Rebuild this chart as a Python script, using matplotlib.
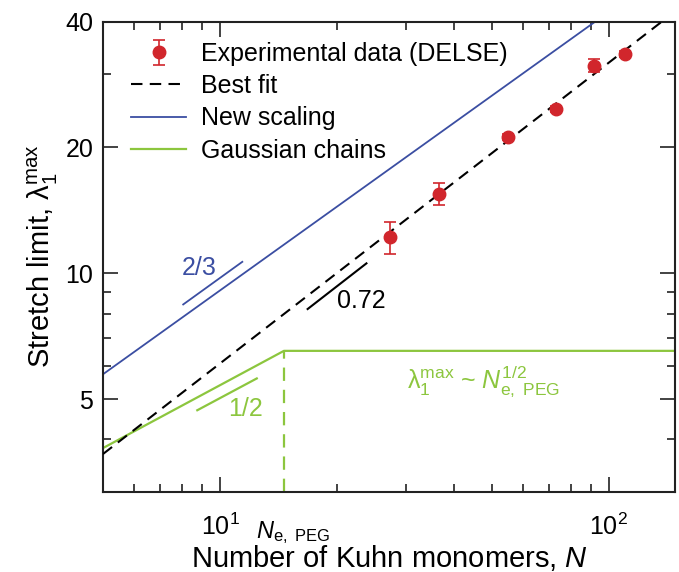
import numpy as np
import matplotlib
matplotlib.use('Agg')
import matplotlib.pyplot as plt
import matplotlib.transforms as mtransforms

plt.rcParams['font.family'] = ['Liberation Sans', 'DejaVu Sans']
plt.rcParams['mathtext.fontset'] = 'custom'
plt.rcParams['mathtext.rm'] = 'Liberation Sans'
plt.rcParams['mathtext.it'] = 'Liberation Sans:italic'
plt.rcParams['mathtext.bf'] = 'Liberation Sans:bold'

# experimental data (DELSE)
N_exp = [27.4, 36.5, 55.0, 73.3, 91.6, 110.0]
lam_exp = [12.2, 15.5, 21.2, 24.7, 31.4, 33.5]
lam_err = [1.1, 0.9, 0.4, 0.4, 1.1, 0.5]

# power laws
fit_pref, fit_exp = 1.159, 0.72
new_pref, new_exp = 1.96, 2 / 3
Ne_PEG = 14.6
lam_plateau = 6.52

# slope marks (N, lambda)
mark_23_N = [8.04, 11.41]
mark_23_lam = [8.42, 10.65]
mark_072_N = [16.8, 23.8]
mark_072_lam = [8.21, 10.56]
mark_12_N = [8.74, 12.43]
mark_12_lam = [4.70, 5.60]

red = '#d1262c'
blue = '#3b4ea2'
green = '#8cc63e'

fig = plt.figure(figsize=(6.79, 5.72), dpi=100)
ax = fig.add_axes([0.1517, 0.1404, 0.8424, 0.8216])
ax.set_xscale('log')
ax.set_yscale('log')
xmin, xmax = 5, 148
ax.set_xlim(xmin, xmax)
ax.set_ylim(3, 40)

N = np.geomspace(xmin, xmax, 200)
ax.plot(N, new_pref * N ** new_exp, color=blue, lw=1.3, label='New scaling')
ax.plot(N, fit_pref * N ** fit_exp, color='black', lw=1.5, dashes=(5.5, 3.5),
        label='Best fit', zorder=3)

Ng = np.array([xmin, Ne_PEG, xmax])
lam_g = np.array([lam_plateau * np.sqrt(xmin / Ne_PEG), lam_plateau, lam_plateau])
ax.plot(Ng, lam_g, color=green, lw=1.6, label='Gaussian chains')
ax.plot([Ne_PEG, Ne_PEG], [3, lam_plateau], color=green, lw=1.6, dashes=(6, 4))

ax.errorbar(N_exp, lam_exp, yerr=lam_err, fmt='o', color=red, ms=9,
            capsize=4.5, elinewidth=1.2, capthick=1.2, zorder=5,
            label='Experimental data (DELSE)')

# slope marks
ax.plot(mark_23_N, mark_23_lam, color=blue, lw=1.3)
ax.plot(mark_072_N, mark_072_lam, color='black', lw=1.5)
ax.plot(mark_12_N, mark_12_lam, color=green, lw=1.6)
ax.text(8.83, 10.3, '2/3', color=blue, fontsize=18, ha='center', va='center')
ax.text(23.1, 8.58, '0.72', color='black', fontsize=18, ha='center', va='center')
ax.text(11.6, 4.73, '1/2', color=green, fontsize=18, ha='center', va='center')
ax.text(30.2, 5.52, r'$\mathrm{λ}_1^{\mathrm{max}}$ ~ $N_{\mathrm{e,\ PEG}}^{1/2}$',
        color=green, fontsize=18, ha='left', va='center')

# ticks
ax.set_yticks([5, 10, 20, 40])
ax.set_yticklabels(['5', '10', '20', '40'])
ax.set_yticks([4, 6, 7, 8, 9, 30], minor=True)
ax.yaxis.set_minor_formatter(plt.NullFormatter())
ax.set_xticks([10, 100])
ax.set_xticklabels([r'$10^1$', r'$10^2$'])
ax.set_xticks([6, 7, 8, 9, 20, 30, 40, 50, 60, 70, 80, 90], minor=True)
ax.xaxis.set_minor_formatter(plt.NullFormatter())
ax.tick_params(which='both', direction='in', top=True, right=True,
               labelsize=18, width=1.2, color='#222222')
ax.tick_params(which='major', length=11)
ax.tick_params(which='minor', length=5.5)
ax.tick_params(axis='y', which='major', pad=7)
ax.tick_params(axis='x', which='major', pad=16)
for sp in ax.spines.values():
    sp.set_linewidth(1.5)
    sp.set_color('#222222')

trans = mtransforms.blended_transform_factory(ax.transData, ax.transAxes)
ax.text(15.4, -0.058, r'$N_{\mathrm{e,\ PEG}}$', transform=trans,
        fontsize=17, ha='center', va='top')

ax.set_ylabel(r'Stretch limit, $\mathrm{λ}_1^{\mathrm{max}}$', fontsize=21, labelpad=4)
fig.text(0.573, 0.008, 'Number of Kuhn monomers, $N$', fontsize=21,
         ha='center', va='baseline')

handles, labels = ax.get_legend_handles_labels()
order = [3, 1, 0, 2]
ax.legend([handles[i] for i in order], [labels[i] for i in order],
          loc='upper left', bbox_to_anchor=(0.01, 1.005), frameon=False,
          fontsize=18, handlelength=2.2, handletextpad=0.6, labelspacing=0.33)

fig.savefig('out.png', dpi=100)
